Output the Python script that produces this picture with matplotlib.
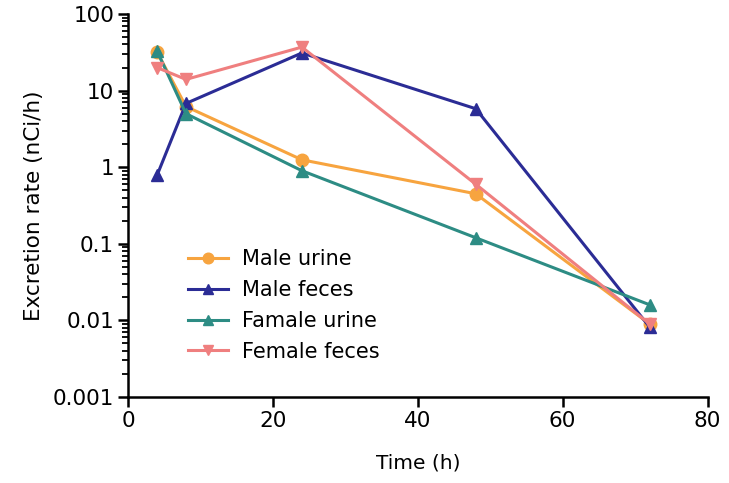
import numpy as np
import matplotlib
matplotlib.use('Agg')
import matplotlib.pyplot as plt
from matplotlib.ticker import LogLocator, FixedLocator, FixedFormatter, NullFormatter

plt.rcParams['font.family'] = ['DejaVu Sans']

# sampling times (h)
time_h = [4, 8, 24, 48, 72]

# excretion rates (nCi/h)
male_urine = [32, 6.2, 1.25, 0.45, 0.009]
male_feces = [0.78, 6.8, 31, 5.8, 0.0082]
famale_urine = [33, 5.0, 0.9, 0.12, 0.016]
female_feces = [20, 14, 37, 0.6, 0.009]

series = [
    ('Male urine', male_urine, '#F7A43F', 'o'),
    ('Male feces', male_feces, '#2B2C95', '^'),
    ('Famale urine', famale_urine, '#2D8C84', '^'),
    ('Female feces', female_feces, '#EF7F7F', 'v'),
]

fig = plt.figure(figsize=(7.29, 4.83), dpi=100)
ax = fig.add_axes([0.1756, 0.178, 0.795, 0.793])

for name, vals, color, mk in series:
    ax.plot(time_h, vals, color=color, marker=mk, markersize=9,
            linewidth=2.2, label=name, clip_on=False)

ax.set_yscale('log')
ax.set_ylim(0.001, 100)
ax.set_xlim(0, 80)
ax.set_xticks([0, 20, 40, 60, 80])
ax.yaxis.set_major_locator(FixedLocator([0.001, 0.01, 0.1, 1, 10, 100]))
ax.yaxis.set_major_formatter(FixedFormatter(['0.001', '0.01', '0.1', '1', '10', '100']))
ax.yaxis.set_minor_locator(LogLocator(base=10, subs=np.arange(2, 10), numticks=20))
ax.yaxis.set_minor_formatter(NullFormatter())

for side in ['top', 'right']:
    ax.spines[side].set_visible(False)
for side in ['left', 'bottom']:
    ax.spines[side].set_linewidth(1.8)
ax.tick_params(axis='both', which='major', length=7, width=1.8, labelsize=15.5, pad=3)
ax.tick_params(axis='y', which='minor', length=4.5, width=1.3)

ax.set_xlabel('Time (h)', fontsize=14.5, labelpad=16)
ax.set_ylabel('Excretion rate (nCi/h)', fontsize=15.5, labelpad=6)

ax.legend(loc='upper left', bbox_to_anchor=(0.086, 0.413), frameon=False,
          fontsize=15, handlelength=1.9, handletextpad=0.7,
          labelspacing=0.52, borderpad=0, markerscale=0.85)

fig.savefig('out.png', dpi=100)
